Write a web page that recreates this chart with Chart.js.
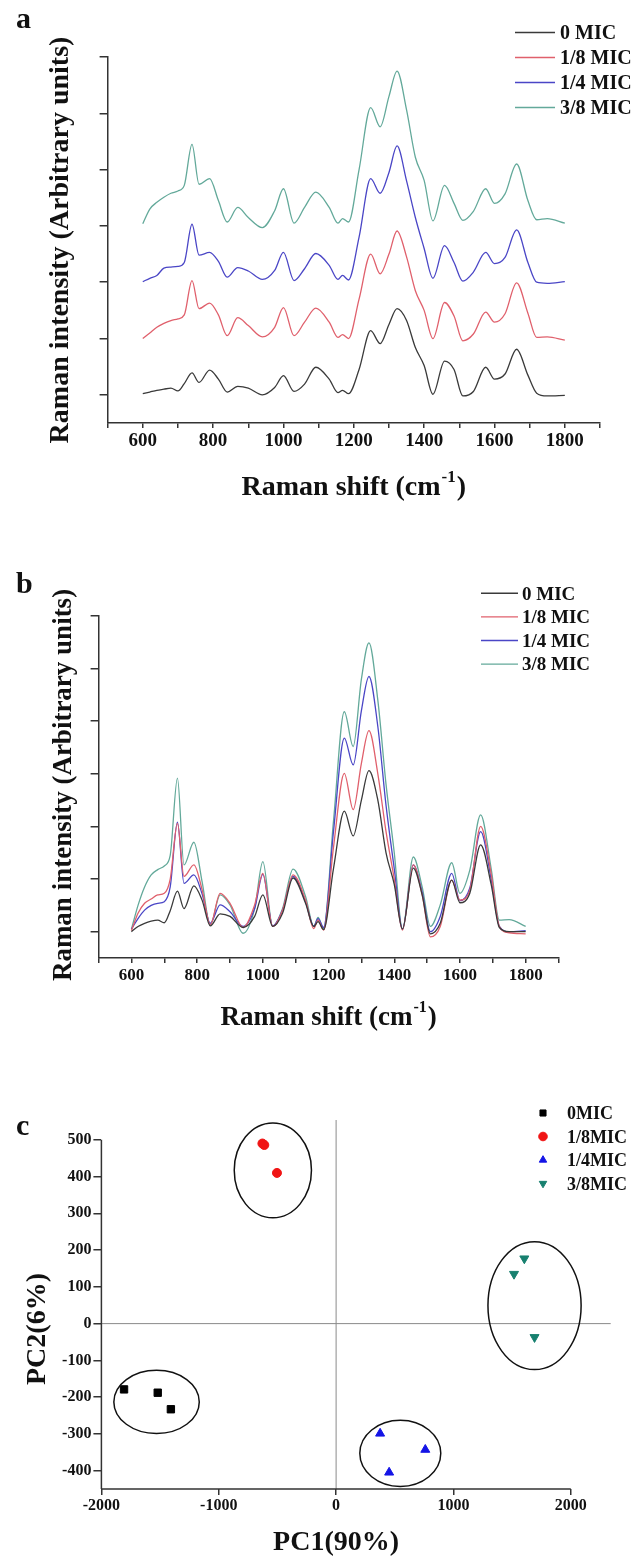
<!DOCTYPE html>
<html>
<head>
<meta charset="utf-8">
<script src="https://cdn.jsdelivr.net/npm/chart.js@4.4.1/dist/chart.umd.min.js"></script>
<style>
  html, body { margin: 0; padding: 0; background: #fff; }
  body { width: 644px; height: 1556px; position: relative; overflow: hidden; }
  canvas { position: absolute; left: 0; }
</style>
</head>
<body>
<canvas id="panelA" width="644" height="520" style="top:0px"></canvas>
<canvas id="panelB" width="644" height="510" style="top:530px"></canvas>
<canvas id="panelC" width="644" height="516" style="top:1040px"></canvas>
<script>
// Raman shift grid (cm-1) shared by all spectra
const shift = [600, 620, 640, 660, 680, 700, 718, 740, 760, 790, 815, 840, 870, 900, 940, 975, 1000, 1030, 1060, 1092,
  1130, 1155, 1168, 1185, 1215, 1248, 1275, 1300, 1323, 1350, 1375, 1400, 1425, 1458, 1485, 1510, 1540, 1575, 1600, 1630,
  1663, 1695, 1720, 1750, 1800];

// panel a: stacked spectra (as plotted, offset one tick each)
const stackZero = [0.02, 0.05, 0.08, 0.10, 0.12, 0.07, 0.20, 0.39, 0.22, 0.44, 0.28, 0.05, 0.15, 0.12, 0.00, 0.13, 0.34, 0.06, 0.19, 0.49,
  0.28, 0.04, 0.08, 0.02, 0.45, 1.14, 0.91, 1.25, 1.53, 1.32, 0.84, 0.52, 0.01, 0.60, 0.45, -0.02, 0.06, 0.49, 0.28, 0.37,
  0.81, 0.35, 0.03, -0.02, -0.01];
const stackEighth = [1.00, 1.10, 1.20, 1.27, 1.32, 1.35, 1.42, 2.03, 1.53, 1.63, 1.42, 1.05, 1.37, 1.23, 1.03, 1.20, 1.55, 1.05, 1.29, 1.54,
  1.29, 1.02, 1.07, 1.00, 1.70, 2.50, 2.15, 2.50, 2.91, 2.45, 1.85, 1.50, 1.00, 1.64, 1.40, 0.96, 1.08, 1.47, 1.29, 1.44,
  1.99, 1.45, 1.02, 1.03, 0.97];
const stackQuarter = [2.01, 2.07, 2.12, 2.25, 2.27, 2.28, 2.35, 3.03, 2.48, 2.53, 2.37, 2.09, 2.26, 2.20, 2.05, 2.21, 2.53, 2.03, 2.24, 2.51,
  2.30, 2.05, 2.12, 2.04, 2.80, 3.84, 3.58, 3.95, 4.42, 3.80, 3.15, 2.60, 2.07, 2.65, 2.35, 2.02, 2.18, 2.53, 2.33, 2.44,
  2.93, 2.35, 2.00, 1.98, 2.01];
const stackThreeEighth = [3.04, 3.30, 3.42, 3.51, 3.58, 3.62, 3.72, 4.45, 3.74, 3.84, 3.45, 3.07, 3.33, 3.15, 2.97, 3.27, 3.66, 3.05, 3.33, 3.60,
  3.33, 3.05, 3.13, 3.07, 4.00, 5.10, 4.76, 5.30, 5.75, 5.06, 4.22, 3.81, 3.09, 3.72, 3.40, 3.10, 3.26, 3.66, 3.40, 3.57,
  4.10, 3.45, 3.11, 3.13, 3.05];

// panel b: overlaid spectra
const overZero = [0.00, 0.10, 0.16, 0.20, 0.22, 0.17, 0.40, 0.77, 0.44, 0.87, 0.60, 0.11, 0.34, 0.29, 0.08, 0.29, 0.70, 0.10, 0.35, 1.02,
  0.54, 0.10, 0.19, 0.04, 1.20, 2.29, 1.82, 2.50, 3.06, 2.50, 1.50, 0.90, 0.05, 1.21, 0.70, -0.04, 0.16, 0.98, 0.55, 0.73,
  1.65, 0.90, 0.08, 0.00, 0.00];
const overEighth = [0.02, 0.35, 0.54, 0.62, 0.70, 0.73, 1.00, 2.06, 1.05, 1.27, 0.80, 0.13, 0.73, 0.54, 0.08, 0.51, 1.11, 0.10, 0.41, 1.08,
  0.60, 0.06, 0.22, 0.03, 1.60, 3.01, 2.32, 3.20, 3.82, 3.00, 1.90, 1.00, 0.03, 1.27, 0.70, -0.10, 0.10, 0.98, 0.60, 0.79,
  2.00, 1.10, 0.10, -0.02, -0.04];
const overQuarter = [0.05, 0.25, 0.41, 0.50, 0.54, 0.57, 0.85, 2.08, 0.92, 1.08, 0.72, 0.16, 0.51, 0.38, 0.10, 0.44, 1.09, 0.11, 0.41, 1.05,
  0.57, 0.10, 0.25, 0.08, 1.90, 3.68, 3.17, 4.20, 4.85, 3.90, 2.40, 1.20, 0.05, 1.27, 0.75, 0.00, 0.29, 1.11, 0.59, 0.83,
  1.90, 1.00, 0.10, 0.00, 0.02];
const overThreeEighth = [0.05, 0.50, 0.85, 1.08, 1.18, 1.25, 1.45, 2.92, 1.27, 1.70, 0.95, 0.13, 0.70, 0.51, -0.03, 0.44, 1.33, 0.10, 0.44, 1.19,
  0.67, 0.10, 0.27, 0.06, 2.10, 4.18, 3.52, 4.80, 5.49, 4.40, 2.80, 1.50, 0.05, 1.42, 0.85, 0.10, 0.51, 1.31, 0.73, 1.17,
  2.22, 1.20, 0.22, 0.23, 0.10];

const seriesLabels = ['0 MIC', '1/8 MIC', '1/4 MIC', '3/8 MIC'];
const seriesColors = ['#3a3a3a', '#e0606c', '#4a46c6', '#63a99a'];
const shiftTicks = [600, 800, 1000, 1200, 1400, 1600, 1800];

// panel c: PCA scores
const pcaLabels = ['0MIC', '1/8MIC', '1/4MIC', '3/8MIC'];
const pc1Zero = [-1807, -1520, -1408];
const pc2Zero = [-179, -188, -233];
const pc1Eighth = [-628, -612, -504];
const pc2Eighth = [490, 486, 410];
const pc1Quarter = [375, 760, 452];
const pc2Quarter = [-299, -343, -405];
const pc1ThreeEighth = [1604, 1516, 1691];
const pc2ThreeEighth = [177, 135, -37];
// confidence ellipses: centre and radii in score units
const ellipseX = [-1530, -539, 547, 1691];
const ellipseY = [-213, 417, -353, 49];
const ellipseRX = [364, 329, 345, 397];
const ellipseRY = [86, 129, 90, 174];
const pc1Ticks = [-2000, -1000, 0, 1000, 2000];
const pc2Ticks = [-400, -300, -200, -100, 0, 100, 200, 300, 400, 500];

const serif = '"Liberation Serif", "Times New Roman", serif';
const ink = '#111';

function bold(size) { return 'bold ' + size + 'px ' + serif; }

function rotatedText(ctx, text, x, y, size) {
  ctx.save();
  ctx.translate(x, y);
  ctx.rotate(-Math.PI / 2);
  ctx.font = bold(size);
  ctx.fillStyle = ink;
  ctx.textAlign = 'center';
  ctx.textBaseline = 'middle';
  ctx.fillText(text, 0, 0);
  ctx.restore();
}

function shiftTitle(ctx, cx, cy, size) {
  const main = 'Raman shift (cm', sup = '-1', tail = ')';
  const small = Math.round(size * 0.6);
  ctx.save();
  ctx.fillStyle = ink;
  ctx.textBaseline = 'middle';
  ctx.textAlign = 'left';
  ctx.font = bold(size);
  const w1 = ctx.measureText(main).width;
  const w3 = ctx.measureText(tail).width;
  ctx.font = bold(small);
  const w2 = ctx.measureText(sup).width;
  const x = cx - (w1 + w2 + w3 + 2) / 2;
  ctx.font = bold(size);
  ctx.fillText(main, x, cy);
  ctx.font = bold(small);
  ctx.fillText(sup, x + w1 + 1, cy - size * 0.38);
  ctx.font = bold(size);
  ctx.fillText(tail, x + w1 + w2 + 2, cy);
  ctx.restore();
}

function panelLetter(ctx, letter, x, baseline) {
  ctx.save();
  ctx.font = bold(30);
  ctx.fillStyle = ink;
  ctx.textBaseline = 'alphabetic';
  ctx.fillText(letter, x, baseline);
  ctx.restore();
}

function spectraChart(id, series, box) {
  const decor = {
    id: 'decor' + id,
    afterDraw(chart) {
      const ctx = chart.ctx;
      const a = chart.chartArea;
      // legend
      ctx.save();
      ctx.font = bold(box.legendSize);
      ctx.textBaseline = 'alphabetic';
      series.forEach((s, i) => {
        const y = box.legendTop + i * box.legendGap;
        ctx.strokeStyle = seriesColors[i];
        ctx.lineWidth = 1.4;
        ctx.beginPath();
        ctx.moveTo(box.legendX1, y);
        ctx.lineTo(box.legendX2, y);
        ctx.stroke();
        ctx.fillStyle = ink;
        ctx.fillText(seriesLabels[i], box.legendText, y + box.legendSize * 0.33);
      });
      ctx.restore();
      shiftTitle(ctx, (a.left + a.right) / 2, box.xTitleY, box.titleSize);
      rotatedText(ctx, 'Raman intensity (Arbitrary units)', box.yTitleX, box.yTitleY, box.titleSize);
      panelLetter(ctx, box.letter, 16, box.letterY);
    }
  };

  return new Chart(document.getElementById(id), {
    type: 'line',
    data: {
      datasets: series.map((ys, i) => ({
        label: seriesLabels[i],
        data: shift.map((x, j) => ({ x: x, y: ys[j] })),
        borderColor: seriesColors[i],
        borderWidth: 1.3,
        pointRadius: 0,
        fill: false,
        cubicInterpolationMode: 'monotone'
      }))
    },
    options: {
      responsive: false,
      animation: false,
      events: [],
      layout: { padding: { left: 0, top: box.top, right: box.right, bottom: 0 } },
      plugins: { legend: { display: false }, tooltip: { enabled: false } },
      scales: {
        x: {
          type: 'linear', min: 500, max: 1900,
          afterFit: s => { s.height = box.xHeight; },
          ticks: {
            stepSize: 100, autoSkip: false, maxRotation: 0, padding: 2, color: ink,
            font: { family: serif, size: box.tickSize, weight: 'bold' },
            callback: v => shiftTicks.includes(v) ? String(v) : ''
          },
          grid: { drawOnChartArea: false, tickLength: 5, color: '#333', lineWidth: 1.5 },
          border: { color: '#333', width: 1.5 }
        },
        y: {
          type: 'linear', min: -0.5, max: 6,
          afterFit: s => { s.width = box.yWidth; },
          afterBuildTicks: s => { s.ticks = s.ticks.filter(t => Number.isInteger(t.value) && t.value >= 0); },
          ticks: { stepSize: 1, callback: () => '' },
          grid: { drawOnChartArea: false, tickLength: 8, color: '#333', lineWidth: 1.5 },
          border: { color: '#333', width: 1.5 }
        }
      }
    },
    plugins: [decor]
  });
}

spectraChart('panelA', [stackZero, stackEighth, stackQuarter, stackThreeEighth], {
  top: 57, right: 44, xHeight: 97, yWidth: 107.6, tickSize: 19,
  legendX1: 515, legendX2: 555, legendText: 560, legendTop: 32.5, legendGap: 25, legendSize: 20,
  titleSize: 28, xTitleY: 488, yTitleX: 61, yTitleY: 240, letter: 'a', letterY: 28
});

spectraChart('panelB', [overZero, overEighth, overQuarter, overThreeEighth], {
  top: 86, right: 85.5, xHeight: 82, yWidth: 98.6, tickSize: 17,
  legendX1: 481, legendX2: 518, legendText: 522, legendTop: 63.3, legendGap: 23.6, legendSize: 19,
  titleSize: 27, xTitleY: 488, yTitleX: 64, yTitleY: 255, letter: 'b', letterY: 63
});

// PCA score plot
const pcaDecor = {
  id: 'pcaDecor',
  beforeDatasetsDraw(chart) {
    const ctx = chart.ctx, a = chart.chartArea;
    const sx = chart.scales.x, sy = chart.scales.y;
    ctx.save();
    ctx.strokeStyle = '#8a8a8a';
    ctx.lineWidth = 1;
    ctx.beginPath();
    ctx.moveTo(a.left, sy.getPixelForValue(0));
    ctx.lineTo(a.right, sy.getPixelForValue(0));
    ctx.moveTo(sx.getPixelForValue(0), a.top);
    ctx.lineTo(sx.getPixelForValue(0), a.bottom);
    ctx.stroke();
    // axis lines only over the labelled range
    ctx.strokeStyle = '#333';
    ctx.lineWidth = 1.5;
    ctx.beginPath();
    ctx.moveTo(a.left, a.bottom);
    ctx.lineTo(a.left, sy.getPixelForValue(500));
    ctx.moveTo(a.left, a.bottom);
    ctx.lineTo(sx.getPixelForValue(2000), a.bottom);
    ctx.stroke();
    ctx.restore();
  },
  afterDatasetsDraw(chart) {
    const ctx = chart.ctx;
    const sx = chart.scales.x, sy = chart.scales.y;
    ctx.save();
    ctx.strokeStyle = '#111';
    ctx.lineWidth = 1.5;
    ellipseX.forEach((cx, i) => {
      const px = sx.getPixelForValue(cx), py = sy.getPixelForValue(ellipseY[i]);
      const rx = Math.abs(sx.getPixelForValue(cx + ellipseRX[i]) - px);
      const ry = Math.abs(sy.getPixelForValue(ellipseY[i] + ellipseRY[i]) - py);
      ctx.beginPath();
      ctx.ellipse(px, py, rx, ry, 0, 0, Math.PI * 2);
      ctx.stroke();
    });
    ctx.restore();
  },
  afterDraw(chart) {
    const ctx = chart.ctx;
    ctx.save();
    chart.data.datasets.forEach((ds, i) => {
      const y = 73 + i * 23.5;
      ctx.fillStyle = ds.backgroundColor;
      ctx.strokeStyle = ds.backgroundColor;
      Chart.helpers.drawPoint(ctx, { pointStyle: ds.pointStyle, radius: 4.3, rotation: ds.rotation || 0, borderWidth: 1 }, 543, y);
      ctx.fillStyle = ink;
      ctx.font = bold(18);
      ctx.textBaseline = 'alphabetic';
      ctx.fillText(pcaLabels[i], 567, y + 6);
    });
    ctx.restore();
    ctx.save();
    ctx.font = bold(28);
    ctx.fillStyle = ink;
    ctx.textAlign = 'center';
    ctx.textBaseline = 'middle';
    ctx.fillText('PC1(90%)', chart.scales.x.getPixelForValue(0), 503);
    ctx.restore();
    rotatedText(ctx, 'PC2(6%)', 38, 289, 28);
    panelLetter(ctx, 'c', 16, 95);
  }
};

function scores(xs, ys) { return xs.map((x, i) => ({ x: x, y: ys[i] })); }

new Chart(document.getElementById('panelC'), {
  type: 'scatter',
  data: {
    datasets: [
      { label: pcaLabels[0], data: scores(pc1Zero, pc2Zero), pointStyle: 'rect', pointRadius: 5.2, backgroundColor: '#000', borderColor: '#000', borderWidth: 1 },
      { label: pcaLabels[1], data: scores(pc1Eighth, pc2Eighth), pointStyle: 'circle', pointRadius: 4.5, backgroundColor: '#f01414', borderColor: '#f01414', borderWidth: 1 },
      { label: pcaLabels[2], data: scores(pc1Quarter, pc2Quarter), pointStyle: 'triangle', pointRadius: 5.2, backgroundColor: '#1414e6', borderColor: '#1414e6', borderWidth: 1 },
      { label: pcaLabels[3], data: scores(pc1ThreeEighth, pc2ThreeEighth), pointStyle: 'triangle', rotation: 180, pointRotation: 180, pointRadius: 5.2, backgroundColor: '#17806f', borderColor: '#17806f', borderWidth: 1 }
    ]
  },
  options: {
    responsive: false,
    animation: false,
    events: [],
    layout: { padding: { left: 0, top: 80, right: 33.3, bottom: 0 } },
    plugins: { legend: { display: false }, tooltip: { enabled: false } },
    scales: {
      x: {
        type: 'linear', min: -2000, max: 2340,
        afterFit: s => { s.height = 67; },
        afterBuildTicks: s => { s.ticks = pc1Ticks.map(v => ({ value: v })); },
        ticks: { autoSkip: false, maxRotation: 0, padding: 1, color: ink, font: { family: serif, size: 16, weight: 'bold' }, callback: v => String(v) },
        grid: { drawOnChartArea: false, tickLength: 6, color: '#333', lineWidth: 1.5 },
        border: { display: false }
      },
      y: {
        type: 'linear', min: -450, max: 554,
        afterFit: s => { s.width = 101.4; },
        afterBuildTicks: s => { s.ticks = pc2Ticks.map(v => ({ value: v })); },
        ticks: { autoSkip: false, padding: 2, color: ink, font: { family: serif, size: 16, weight: 'bold' }, callback: v => String(v) },
        grid: { drawOnChartArea: false, tickLength: 8, color: '#333', lineWidth: 1.5 },
        border: { display: false }
      }
    }
  },
  plugins: [pcaDecor]
});
</script>
</body>
</html>
